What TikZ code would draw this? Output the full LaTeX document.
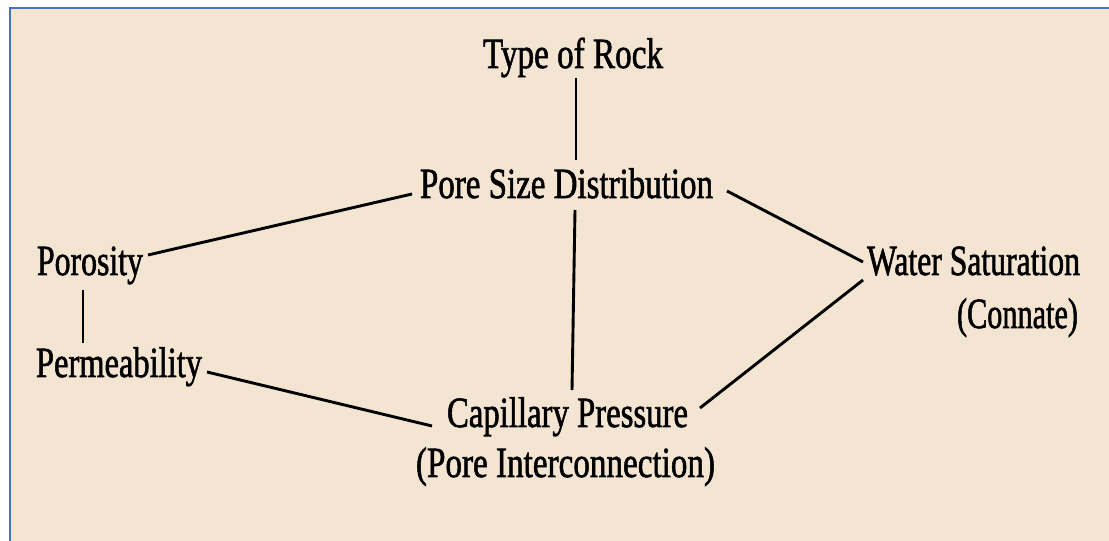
\documentclass[tikz,border=0pt]{standalone}
\usepackage{fontspec}
\setmainfont[FakeBold=1.6]{Liberation Serif}
\usepackage{graphicx}
\definecolor{paper}{RGB}{244,228,210}
\definecolor{frameblue}{RGB}{68,114,196}
\newcommand\fitw[2]{\resizebox{#1}{\height}{#2}}
\tikzset{
  lbl/.style={inner sep=0pt, outer sep=0pt, font=\fontsize{43}{50}\selectfont, text=black},
  link/.style={line width=2.9pt, draw=black}
}
\begin{document}
\begin{tikzpicture}[x=1pt,y=1pt]
\useasboundingbox (0,0) rectangle (1109,541);
\fill[white] (0,0) rectangle (1109,541);
\fill[paper] (10,0) rectangle (1109,533);
\draw[frameblue, line width=2.3pt] (8.8,533.2) -- (1109,533.2);
\draw[frameblue, line width=2.2pt] (9.8,0) -- (9.8,534.3);

\node[lbl, anchor=base west] (rock) at (483,473) {\fitw{180pt}{Type of Rock}};
\node[lbl, anchor=base west] (pore) at (420,343) {\fitw{293pt}{Pore Size Distribution}};
\node[lbl, anchor=base west] (poros) at (37,266) {\fitw{106pt}{Porosity}};
\node[lbl, anchor=base west] (perm) at (36,164) {\fitw{166pt}{Permeability}};
\node[lbl, anchor=base west] (water) at (867,266) {\fitw{213pt}{Water Saturation}};
\node[lbl, anchor=base east] (connate) at (1078,213) {\fitw{121pt}{(Connate)}};
\node[lbl, anchor=base west] (cap) at (447,114) {\fitw{241pt}{Capillary Pressure}};
\node[lbl, anchor=base west] (inter) at (416,64) {\fitw{299pt}{(Pore Interconnection)}};

\draw[link] ([shift={(93pt,-10pt)}]rock.base west) -- ([shift={(156pt,38pt)}]pore.base west);
\draw[link] ([shift={(155pt,-12pt)}]pore.base west) -- ([shift={(125pt,37pt)}]cap.base west);
\draw[link] ([shift={(111pt,20pt)}]poros.base west) -- ([shift={(-8pt,4pt)}]pore.base west);
\draw[link] ([shift={(46pt,-15pt)}]poros.base west) -- ([shift={(47pt,34pt)}]perm.base west);
\draw[link] ([shift={(171pt,5pt)}]perm.base west) -- ([shift={(-15pt,1pt)}]cap.base west);
\draw[link] ([shift={(14pt,7pt)}]pore.base east) -- ([shift={(-4pt,13pt)}]water.base west);
\draw[link] ([shift={(-4pt,-5pt)}]water.base west) -- ([shift={(12pt,19pt)}]cap.base east);
\end{tikzpicture}
\end{document}
